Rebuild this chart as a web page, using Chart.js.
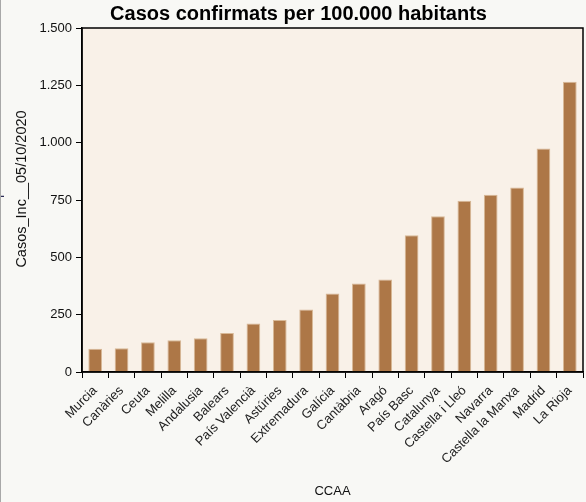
<!DOCTYPE html>
<html>
<head>
<meta charset="utf-8">
<script src="https://cdn.jsdelivr.net/npm/chart.js@4.4.0/dist/chart.umd.min.js"></script>
<style>
  html, body { margin:0; padding:0; background:#f8f8f5; }
  #wrap { width:586px; height:502px; position:relative; }
</style>
</head>
<body>
<div id="wrap"><canvas id="mycanvas" width="586" height="502"></canvas></div>
<script>
// data
var ccaa = ["Murcia","Canàries","Ceuta","Melilla","Andalusia","Balears","País Valencià","Astúries",
  "Extremadura","Galícia","Cantàbria","Aragó","País Basc","Catalunya","Castella i Lleó","Navarra",
  "Castella la Manxa","Madrid","La Rioja"];
var casosInc = [101,104,130,138,147,170,212,227,272,342,386,403,596,679,747,773,805,975,1266];
var yTicks = [0,250,500,750,1000,1250,1500];
var yTickLabels = ["0","250","500","750","1.000","1.250","1.500"];

var titleText = "Casos confirmats per 100.000 habitants";
var yTitle = "Casos_Inc__05/10/2020";
var xTitle = "CCAA";

var FONT = "'Liberation Sans', Arial, Helvetica, sans-serif";

// plot background, frame, y title, and the clipped bits at the left edge
var framePlugin = {
  id: "frame",
  beforeDraw: function(chart){
    var ctx = chart.ctx, a = chart.chartArea;
    ctx.save();
    ctx.fillStyle = "#f9f1e8";
    ctx.fillRect(a.left, a.top, a.right - a.left, a.bottom - a.top);
    ctx.restore();
  },
  afterDraw: function(chart){
    var ctx = chart.ctx, a = chart.chartArea;
    ctx.save();
    ctx.strokeStyle = "#000";
    ctx.lineWidth = 1.5;
    ctx.strokeRect(a.left, a.top, a.right - a.left, a.bottom - a.top);
    ctx.restore();

    // y axis title, a bit above the middle like the original
    ctx.save();
    ctx.translate(22, 189);
    ctx.rotate(-Math.PI/2);
    ctx.fillStyle = "#111";
    ctx.font = "14.5px " + FONT;
    ctx.textAlign = "center";
    ctx.textBaseline = "middle";
    ctx.fillText(yTitle, 0, 0);
    ctx.restore();

    // cut-off label + grey edge on the far left
    ctx.save();
    ctx.translate(-3, 187);
    ctx.rotate(-Math.PI/2);
    ctx.fillStyle = "#2a2a55";
    ctx.font = "13px " + FONT;
    ctx.textAlign = "center";
    ctx.textBaseline = "middle";
    ctx.fillText(titleText, 0, 0);
    ctx.restore();
    ctx.fillStyle = "#a8a8a8";
    ctx.fillRect(0, 0, 1, 502);
  }
};

var chart = new Chart(document.getElementById("mycanvas").getContext("2d"), {
  type: "bar",
  data: {
    labels: ccaa,
    datasets: [{
      data: casosInc,
      backgroundColor: "#ad7747",
      borderColor: "#d8b896",
      borderWidth: 1,
      barPercentage: 0.52,
      categoryPercentage: 1.0
    }]
  },
  options: {
    responsive: false,
    animation: false,
    layout: { padding: { left: 14, right: 3, top: 0, bottom: 1 } },
    plugins: {
      legend: { display: false },
      tooltip: { enabled: false },
      title: {
        display: true,
        text: titleText,
        color: "#000",
        font: { family: FONT, size: 20, weight: "bold" },
        padding: { top: 2, bottom: 2 }
      }
    },
    scales: {
      x: {
        grid: { drawOnChartArea: false, drawTicks: true, tickLength: 6, color: "#000" },
        border: { display: true, color: "#000", width: 1.5 },
        ticks: { color: "#222", font: { family: FONT, size: 13 }, minRotation: 45, maxRotation: 45, autoSkip: false, padding: 5 },
        title: { display: true, text: xTitle, color: "#111", font: { family: FONT, size: 13 }, padding: { top: 0, bottom: 2 } },
        afterFit: function(s){ s.height = 129; }
      },
      y: {
        min: 0, max: 1500,
        grid: { drawOnChartArea: false, drawTicks: true, tickLength: 6, color: "#000" },
        border: { display: true, color: "#000", width: 1.5 },
        afterBuildTicks: function(s){ s.ticks = yTicks.map(function(v){ return { value: v }; }); },
        ticks: {
          color: "#111", font: { family: FONT, size: 13 }, padding: 4,
          callback: function(v){ var i = yTicks.indexOf(v); return i >= 0 ? yTickLabels[i] : ""; }
        },
        title: { display: false },
        afterFit: function(s){ s.width = 68; }
      }
    }
  },
  plugins: [framePlugin]
});
</script>
</body>
</html>
